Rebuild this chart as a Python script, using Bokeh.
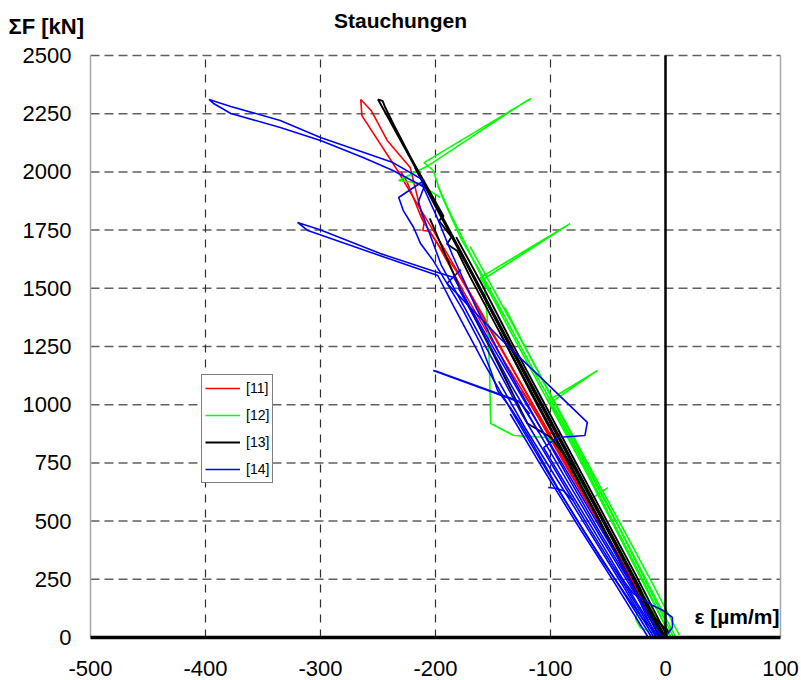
from bokeh.plotting import figure
from bokeh.models import Range1d, Label, Legend, LegendItem
from bokeh.core.properties import value
from bokeh.embed import file_html
from bokeh.resources import INLINE

FONT = "Liberation Sans"

# ---------------- data (strain eps [um/m], force F [kN]) ----------------
x_ticks = [-500, -400, -300, -200, -100, 0, 100]
y_ticks = [0, 250, 500, 750, 1000, 1250, 1500, 1750, 2000, 2250, 2500]
x_grid = [-400, -300, -200, -100]
y_grid = [250, 500, 750, 1000, 1250, 1500, 1750, 2000, 2250, 2500]
series_names = ["[11]", "[12]", "[13]", "[14]"]

red_main = [(0,0),(-30,255),(-60,510),(-90,765),(-117,1000),(-146,1233),(-175,1480),(-198,1690),
            (-205,1745),(-211,1748),(-210,1778),(-222,2019),(-242,2135),(-256,2264),(-265,2311),
            (-264,2242),(-233,2006),(-218,1880),(-190,1650),(-160,1395),(-130,1130),(-100,870),
            (-70,605),(-40,345),(-12,95),(-3,0)]
red_second = [(-2,0),(-33,280),(-63,540),(-93,800),(-120,1040),(-150,1300),(-180,1560),(-204,1735),
              (-212,1800),(-225,1960),(-230,2000)]
red_hook = [(-125,1060),(-102,880),(-92,872),(-97,850),(-75,650),(-45,390),(-15,120),(-4,0)]
red_origin = [(-20,150),(-12,80),(-8,30),(-2,5)]

green_a = [(9,0),(-15,230),(-40,470),(-65,700),(-90,930),(-115,1150),(-140,1380),(-162,1580),
           (-177,1705),(-194,1890),(-202,2006),(-210,2040),(-117,2315),(-122,2302),(-207,2025),
           (-232,1963),(-215,1952),(-196,1890)]
green_b = [(5,0),(-20,240),(-46,490),(-70,720),(-95,950),(-118,1160),(-143,1390),(-165,1600),
           (-185,1800),(-198,1940)]
green_c = [(12,10),(-10,220),(-35,450),(-58,660),(-82,880),(-106,1100),(-128,1300),(-150,1500),
           (-170,1680)]
green_d = [(3,20),(-22,270),(-50,540),(-75,780),(-98,990)]
green_e = [(7,0),(-18,250),(-43,500),(-68,740),(-93,975),(-116,1190),(-140,1420)]
green_spike2 = [(-140,1380),(-161,1546),(-83,1778),(-86,1768),(-158,1540),(-155,1375),(-153,1150),
                (-152,919),(-132,868),(-103,859),(-91,816),(-70,640),(-40,380),(-10,100),(5,0)]
green_spike3 = [(-95,960),(-102,1018),(-59,1147),(-62,1138),(-100,1008)]
green_spike4 = [(-63,601),(-50,644)]
green_loop = [(-5,10),(-22,43),(-26,80),(-24,116),(-15,160)]

black_a = [(0,0),(-28,260),(-56,520),(-84,780),(-112,1040),(-140,1300),(-168,1560),(-196,1820),
           (-222,2060),(-242,2240),(-250,2311),(-246,2305),(-244,2280),(-236,2200),(-215,2000),
           (-190,1770),(-163,1520),(-135,1260),(-107,1000),(-79,740),(-51,480),(-23,220),(-3,0)]
black_b = [(-4,0),(-31,250),(-60,530),(-88,790),(-116,1050),(-143,1300),(-170,1550),(-181,1660),
           (-190,1690),(-186,1720),(-197,1790),(-193,1810),(-210,1960),(-226,2100),(-240,2230)]
black_c = [(2,0),(-26,270),(-52,510),(-80,770),(-108,1030),(-134,1270),(-160,1520),(-182,1720)]
black_d = [(-6,10),(-34,270),(-62,540),(-90,800),(-117,1050),(-144,1310)]
black_e = [(-1,0),(-29,265),(-57,525),(-85,785),(-113,1045),(-141,1305),(-169,1565),(-195,1805),
           (-218,2020)]
black_f = [(-3,0),(-27,240),(-55,505),(-82,755),(-110,1015),(-138,1275),(-165,1530)]
black_thin = [(-205,1800),(-178,1490),(-150,1220),(-120,919),(-100,860),(-75,700),(-45,420),
              (-15,130),(0,0)]
black_origin = [(-12,100),(-5,60),(2,30),(-1,5)]

blue_a = [(-12,0),(-40,220),(-70,450),(-100,690),(-130,940),(-158,1180),(-184,1420),(-198,1555),
          (-248,1640),(-311,1748),(-320,1783),(-301,1753),(-248,1649),(-198,1568),(-184,1546),
          (-170,1420),(-148,1230),(-122,1010),(-95,790),(-65,540),(-35,290),(-8,0)]
blue_b = [(-8,0),(-35,220),(-65,460),(-95,710),(-125,960),(-150,1190),(-175,1420),(-195,1600),
          (-207,1760),(-215,1870),(-210,1935),(-237,2006),(-263,2062),(-300,2135),(-335,2191),
          (-378,2251),(-393,2294),(-397,2311),(-378,2281),(-335,2221),(-300,2148),(-237,2040),
          (-210,1963),(-232,1890),(-228,1834),(-219,1761),(-213,1692),(-202,1619),(-190,1521),
          (-176,1405),(-161,1263),(-152,1147),(-146,1061),(-135,988),(-126,919),(-117,846),
          (-90,610),(-55,330),(-20,80),(-5,0)]
blue_c = [(-5,10),(-30,230),(-58,460),(-86,700),(-112,930),(-140,1180),(-165,1420),(-185,1640),
          (-200,1820),(-212,1950)]
blue_d = [(-110,880),(-126,1009),(-202,1147),(-198,1142),(-128,1016),(-118,960)]
blue_right = [(-178,1580),(-190,1521),(-142,1276),(-105,1100),(-68,924),(-70,868),(-94,859),
              (-106,816),(-92,700),(-60,440),(-25,150),(-6,0)]
blue_hook = [(-102,644),(-95,640),(-89,631),(-80,588)]
blue_origin = [(-45,300),(-28,189),(-12,140),(-2,116),(6,86),(6,43),(2,17),(-4,3)]
blue_e = [(-15,0),(-45,240),(-76,480),(-106,720),(-135,960)]
blue_f = [(-10,0),(-38,230),(-68,470),(-97,700),(-122,900),(-145,1100)]
blue_g = [(-3,0),(-28,200),(-55,420),(-84,660),(-110,880),(-135,1090),(-160,1320),(-180,1500)]

series_traces = [
    [red_main, red_second, red_hook, red_origin],
    [green_a, green_b, green_c, green_d, green_e, green_spike2, green_spike3, green_spike4, green_loop],
    [black_a, black_b, black_c, black_d, black_e, black_f, black_thin, black_origin],
    [blue_a, blue_b, blue_c, blue_d, blue_right, blue_hook, blue_origin, blue_e, blue_f, blue_g],
]
series_colors = ["#ff0000", "#00ff00", "#000000", "#0000ff"]
series_widths = [1.6, 1.6, 1.9, 1.6]

# ---------------- figure: the frame covers the whole canvas ----------------
W, H = 800, 680
PX_X = 1.15      # pixels per strain unit
PX_Y = 0.2328    # pixels per kN
LEFT, BOTTOM = 90, 637   # pixel position of (-500, 0)
x0 = -500 - LEFT / PX_X
x1 = x0 + W / PX_X
y0 = -(H - BOTTOM) / PX_Y
y1 = y0 + H / PX_Y

p = figure(width=W, height=H, x_range=Range1d(x0, x1), y_range=Range1d(y0, y1),
           output_backend="svg", toolbar_location=None,
           x_axis_location=None, y_axis_location=None,
           min_border=0, min_border_left=0, min_border_right=0,
           min_border_top=0, min_border_bottom=0)
p.outline_line_color = None
p.grid.visible = False
p.background_fill_color = "white"
p.border_fill_color = "white"

xmin, xmax = x_ticks[0], x_ticks[-1]
ymin, ymax = y_ticks[0], y_ticks[-1]

# grid lines
p.segment(x0=[xmin] * len(y_grid), y0=y_grid, x1=[xmax] * len(y_grid), y1=y_grid,
          line_color="#606060", line_width=1.5, line_dash="9 5")
p.segment(x0=x_grid, y0=[ymin] * len(x_grid), x1=x_grid, y1=[ymax] * len(x_grid),
          line_color="#303030", line_width=1.2, line_dash="8 7")
# left / right border
p.segment(x0=[xmin, xmax], y0=[ymin, ymin], x1=[xmin, xmax], y1=[ymax, ymax],
          line_color="#a8a8a8", line_width=1.5)

renderers = []
for traces, col, lw in zip(series_traces, series_colors, series_widths):
    xs = [[pt[0] for pt in t] for t in traces]
    ys = [[pt[1] for pt in t] for t in traces]
    r = p.multi_line(xs, ys, line_color=col, line_width=lw)
    renderers.append(r)

# thick axis lines through the origin
p.segment(x0=[0], y0=[ymin], x1=[0], y1=[ymax], line_color="black", line_width=2.5)
p.segment(x0=[xmin], y0=[0], x1=[xmax], y1=[0], line_color="black", line_width=3.5)

# tick labels
p.text(x=[xmin - 19 / PX_X] * len(y_ticks), y=y_ticks, text=[str(t) for t in y_ticks],
       text_align="right", text_baseline="middle", text_font=value(FONT),
       text_font_size="22px", text_color="black")
p.text(x=x_ticks, y=[-(668 - BOTTOM) / PX_Y] * len(x_ticks), text=[str(t) for t in x_ticks],
       text_align="center", text_baseline="middle", text_font=value(FONT),
       text_font_size="22px", text_color="black")

legend = Legend(items=[LegendItem(label=n, renderers=[r]) for n, r in zip(series_names, renderers)],
                location=(201, H - 483), label_text_font=FONT, label_text_font_size="14px",
                label_text_color="black",
                glyph_width=35, glyph_height=20, label_height=20, spacing=7, padding=3,
                margin=0, label_standoff=6, border_line_color="black", border_line_width=1,
                background_fill_alpha=1.0)
p.add_layout(legend)

p.add_layout(Label(x=-500 + (400 - LEFT) / PX_X, y=(BOTTOM - 31) / PX_Y, text="Stauchungen",
                   text_align="center", text_font=FONT, text_font_size="21px",
                   text_font_style="bold", text_color="black"))
p.add_layout(Label(x=-500 + (8 - LEFT) / PX_X, y=(BOTTOM - 38) / PX_Y, text="ΣF [kN]",
                   text_align="left", text_font=FONT, text_font_size="22px",
                   text_font_style="bold", text_color="black"))
p.add_layout(Label(x=-500 + (779 - LEFT) / PX_X, y=(BOTTOM - 627) / PX_Y, text="ε [µm/m]",
                   text_align="right", text_font=FONT, text_font_size="21px",
                   text_font_style="bold", text_color="black"))

open("out.html", "w").write(file_html(p, INLINE))
